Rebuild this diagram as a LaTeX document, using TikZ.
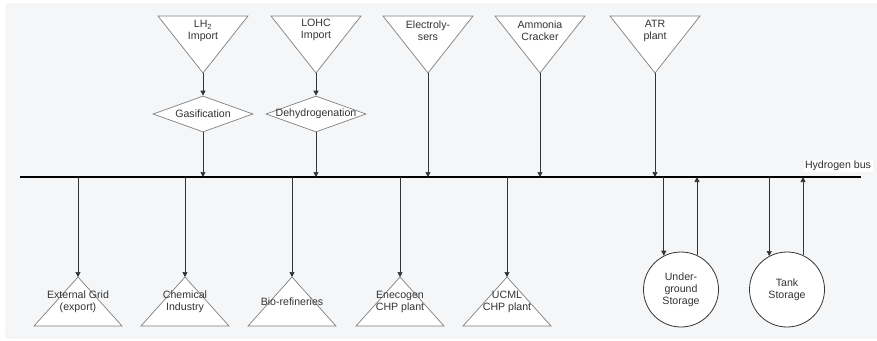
\documentclass[tikz,border=0pt]{standalone}
\usepackage{fontspec}
\setmainfont{Liberation Sans}
\usetikzlibrary{shapes.geometric,arrows.meta}
\definecolor{panel}{HTML}{F5F6F8}
\definecolor{panelline}{HTML}{E2E3E5}
\definecolor{shapeline}{HTML}{7F7F7F}
\definecolor{ink}{HTML}{333333}
\begin{document}
\begin{tikzpicture}[x=1pt,y=-1pt,
  lbl/.style={font=\fontsize{10.6}{12}\selectfont, text=ink, align=center, inner sep=0pt},
  tri/.style={draw=shapeline, fill=white, line width=0.7pt},
  dia/.style={lbl, shape=diamond, draw=shapeline, fill=white, line width=0.7pt,
              minimum width=100pt, minimum height=36pt, inner sep=0pt},
  circ/.style={lbl, circle, draw=ink, fill=white, line width=0.8pt,
               minimum size=75pt, inner sep=0pt},
  conn/.style={draw=ink, line width=0.7pt, -{Triangle[length=5pt,width=5pt]}},
  bus/.style={draw=black, line width=1.6pt}]
\useasboundingbox (0,0) rectangle (877,340);
\draw[panelline, fill=panel, rounded corners=3pt] (6,4) rectangle (884,338);

% bus
\coordinate (busL) at (20,177);
\coordinate (busR) at (861,177);
\draw[bus] (busL) -- (busR);
\node[lbl, fill=white, inner sep=1.5pt] (hb) at (838,166) {Hydrogen bus};

% top sources
\path[tri] (158,16) -- (248,16) -- (203,73) -- cycle;
\coordinate (lh2) at (203,73);
\node[lbl] (lh2t) at (203,31) {LH\textsubscript{2}\\Import};

\path[tri] (271,16) -- (361,16) -- (316,73) -- cycle;
\coordinate (lohc) at (316,73);
\node[lbl] (lohct) at (316,30) {LOHC\\Import};

\path[tri] (383,16) -- (473,16) -- (428,73) -- cycle;
\coordinate (ely) at (428,73);
\node[lbl] (elyt) at (428,31) {Electroly-\\sers};

\path[tri] (495,16) -- (585,16) -- (540,73) -- cycle;
\coordinate (amm) at (540,73);
\node[lbl] (ammt) at (540,31) {Ammonia\\Cracker};

\path[tri] (610,16) -- (700,16) -- (655,73) -- cycle;
\coordinate (atr) at (655,73);
\node[lbl] (atrt) at (655,31) {ATR\\plant};

% conversion steps
\node[dia] (gas) at (203,114) {\makebox[0pt]{Gasification}};
\node[dia] (deh) at (316,114) {\makebox[0pt]{Dehydrogenation}};

\draw[conn] (lh2) -- (gas.north);
\draw[conn] (gas.south) -- (gas.south |- busL);
\draw[conn] (lohc) -- (deh.north);
\draw[conn] (deh.south) -- (deh.south |- busL);
\draw[conn] (ely) -- (ely |- busL);
\draw[conn] (amm) -- (amm |- busL);
\draw[conn] (atr) -- (atr |- busL);

% consumers
\path[tri] (34,326) -- (122,326) -- (78,277) -- cycle;
\coordinate (ext) at (78,277);
\draw[conn] (ext |- busL) -- (ext);
\node[lbl] (extt) at (78,301.5) {External Grid\\(export)};

\path[tri] (141,326) -- (229,326) -- (185,277) -- cycle;
\coordinate (chem) at (185,277);
\draw[conn] (chem |- busL) -- (chem);
\node[lbl] (chemt) at (185,301.5) {Chemical\\Industry};

\path[tri] (248,326) -- (336,326) -- (292,277) -- cycle;
\coordinate (bio) at (292,277);
\draw[conn] (bio |- busL) -- (bio);
\node[lbl] (biot) at (292,302) {Bio-refineries};

\path[tri] (356,326) -- (444,326) -- (400,277) -- cycle;
\coordinate (ene) at (400,277);
\draw[conn] (ene |- busL) -- (ene);
\node[lbl] (enet) at (400,301.5) {Enecogen\\CHP plant};

\path[tri] (463,326) -- (551,326) -- (507,277) -- cycle;
\coordinate (ucml) at (507,277);
\draw[conn] (ucml |- busL) -- (ucml);
\node[lbl] (ucmlt) at (507,301.5) {UCML\\CHP plant};

% storage
\node[circ] (ug) at (681,289.5) {Under-\\ground\\Storage};
\node[circ] (tank) at (787,289.5) {Tank\\Storage};
\draw[conn] (ug.117 |- busL) -- (ug.117);
\draw[conn] (ug.65) -- (ug.65 |- busL);
\draw[conn] (tank.118 |- busL) -- (tank.118);
\draw[conn] (tank.65) -- (tank.65 |- busL);
\end{tikzpicture}
\end{document}
